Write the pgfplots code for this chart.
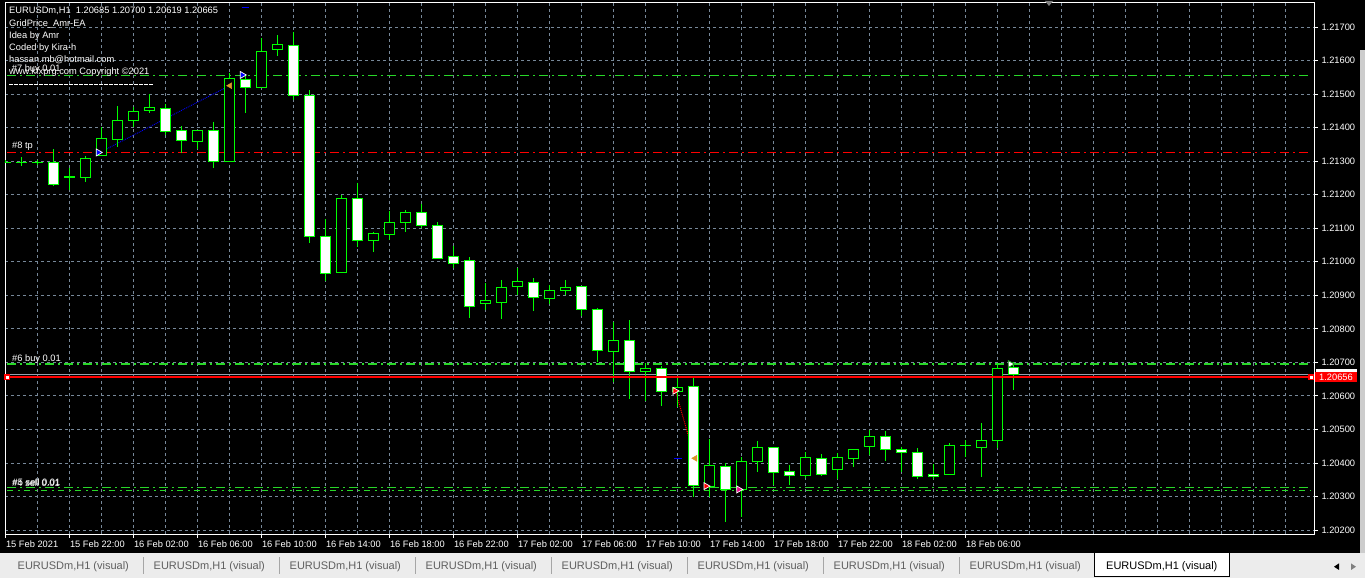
\documentclass[border=0pt]{standalone}
\usepackage{pgfplots}
\pgfplotsset{compat=1.18}
\usepackage{pgfplotstable}
\usepackage{fontspec}
\setmainfont{Liberation Sans}
\definecolor{gridc}{RGB}{119,136,153}
\definecolor{cgreen}{RGB}{0,255,0}
\definecolor{lgreen}{RGB}{40,215,40}
\definecolor{tabbg}{RGB}{236,236,236}
\definecolor{tabtxt}{RGB}{95,95,95}
\definecolor{orng}{RGB}{218,150,40}
\definecolor{bidgray}{RGB}{150,160,175}

\pgfplotstableread{
k o h l c
5 1.21252 1.21315 1.21239 1.21308
6 1.21318 1.21401 1.21315 1.21368
7 1.21366 1.21464 1.21341 1.21423
8 1.21423 1.21462 1.21403 1.21450
9 1.21452 1.21500 1.21443 1.21461
12 1.21359 1.21391 1.21335 1.21390
14 1.21301 1.21564 1.21298 1.21547
16 1.21522 1.21666 1.21517 1.21629
17 1.21634 1.21676 1.21614 1.21648
21 1.20969 1.21199 1.20966 1.21189
23 1.21064 1.21090 1.21030 1.21085
24 1.21082 1.21151 1.21065 1.21118
25 1.21118 1.21154 1.21090 1.21147
30 1.20876 1.20936 1.20856 1.20885
31 1.20881 1.20946 1.20828 1.20924
32 1.20926 1.20980 1.20901 1.20942
34 1.20891 1.20931 1.20874 1.20915
35 1.20915 1.20946 1.20901 1.20924
38 1.20732 1.20821 1.20642 1.20766
40 1.20674 1.20697 1.20586 1.20682
42 1.20614 1.20652 1.20566 1.20626
44 1.20329 1.20471 1.20299 1.20391
46 1.20321 1.20417 1.20240 1.20405
47 1.20404 1.20465 1.20374 1.20448
50 1.20363 1.20432 1.20354 1.20417
52 1.20380 1.20429 1.20352 1.20417
53 1.20413 1.20441 1.20389 1.20441
54 1.20449 1.20498 1.20424 1.20480
59 1.20365 1.20459 1.20365 1.20453
61 1.20449 1.20518 1.20359 1.20468
62 1.20468 1.20699 1.20444 1.20682
}\bulls

\pgfplotstableread{
k o h l c
3 1.21297 1.21336 1.21227 1.21231
10 1.21459 1.21470 1.21378 1.21390
11 1.21391 1.21405 1.21323 1.21363
13 1.21393 1.21418 1.21279 1.21301
15 1.21544 1.21557 1.21443 1.21520
18 1.21644 1.21686 1.21482 1.21497
19 1.21497 1.21512 1.21057 1.21075
20 1.21075 1.21127 1.20943 1.20966
22 1.21189 1.21236 1.21045 1.21064
26 1.21147 1.21172 1.21100 1.21109
27 1.21109 1.21118 1.21010 1.21010
28 1.21016 1.21047 1.20980 1.20995
29 1.21004 1.21013 1.20831 1.20867
33 1.20939 1.20951 1.20854 1.20894
36 1.20927 1.20927 1.20838 1.20858
37 1.20858 1.20861 1.20702 1.20736
39 1.20766 1.20826 1.20592 1.20673
41 1.20682 1.20689 1.20570 1.20614
43 1.20629 1.20652 1.20299 1.20332
45 1.20391 1.20399 1.20225 1.20321
48 1.20448 1.20448 1.20334 1.20374
49 1.20375 1.20394 1.20334 1.20363
51 1.20414 1.20427 1.20361 1.20368
55 1.20480 1.20495 1.20407 1.20440
56 1.20441 1.20449 1.20374 1.20432
57 1.20432 1.20444 1.20351 1.20362
58 1.20366 1.20397 1.20351 1.20360
63 1.20685 1.20700 1.20619 1.20665
}\bears

\pgfplotstableread{
k o h l c
0 1.21298 1.21302 1.21295 1.21298
1 1.21298 1.21312 1.21286 1.21298
2 1.21297 1.21303 1.21288 1.21297
4 1.21254 1.21280 1.21214 1.21254
60 1.20453 1.20468 1.20419 1.20453
}\dojis

\pgfplotsset{
  ebar/.style 2 args={forget plot, draw=none, mark=none,
    error bars/.cd, y dir=both, y explicit, error mark=none,
    error bar style={draw=#1, solid, line width=#2}},
}
\newcommand{\wick}[1]{\addplot[ebar={cgreen}{1pt}] table[x=k, y=h, y error plus expr=0, y error minus expr=\thisrow{h}-\thisrow{l}] {#1};}

\begin{document}
\begin{tikzpicture}
\useasboundingbox (0pt,0pt) rectangle (1365pt,578pt);
\fill[black] (0pt,0pt) rectangle (1365pt,578pt);
\fill[tabbg] (0pt,0pt) rectangle (1365pt,25pt);
\fill[gray!40] (1360pt,25pt) rectangle (1365pt,528pt);

\begin{axis}[
  at={(5pt,576pt)}, anchor=north west,
  scale only axis, width=1309pt, height=532pt,
  xmin=-0.031, xmax=81.78, ymin=1.201882, ymax=1.217746,
  axis background/.style={fill=black},
  axis line style={white, line width=0.8pt},
  tick style={white, line width=0.8pt},
  tick align=outside, major tick length=4pt, minor tick length=0pt,
  xtick pos=lower, ytick pos=upper, yticklabel pos=upper,
  xtick={0,4,8,12,16,20,24,28,32,36,40,44,48,52,56,60},
  xticklabels={15 Feb 2021,15 Feb 22:00,16 Feb 02:00,16 Feb 06:00,16 Feb 10:00,16 Feb 14:00,16 Feb 18:00,16 Feb 22:00,17 Feb 02:00,17 Feb 06:00,17 Feb 10:00,17 Feb 14:00,17 Feb 18:00,17 Feb 22:00,18 Feb 02:00,18 Feb 06:00},
  minor xtick={2,6,10,14,18,22,26,30,34,38,42,46,50,54,58,62,64,66,68,70,72,74,76,78,80},
  ytick={1.202,1.203,1.204,1.205,1.206,1.207,1.208,1.209,1.210,1.211,1.212,1.213,1.214,1.215,1.216,1.217},
  scaled y ticks=false,
  grid=both,
  major grid style={draw=gridc, dash pattern=on 3pt off 3pt, line width=0.8pt},
  minor grid style={draw=gridc, dash pattern=on 3pt off 3pt, line width=0.8pt},
  xticklabel style={text=white, font=\fontsize{9.3}{10}\selectfont, anchor=north west, xshift=-3pt, yshift=1pt},
  yticklabel style={text=white, font=\fontsize{9.3}{10}\selectfont, anchor=west,
    /pgf/number format/.cd, fixed, fixed zerofill, precision=5, assume math mode=true},
]
% level lines
\addplot[lgreen, line width=1.2pt, dash pattern=on 9pt off 4pt on 2pt off 4pt] coordinates {(0.1,1.21555) (81.6,1.21555)};
\addplot[red, line width=1.2pt, dash pattern=on 9pt off 4pt on 2pt off 4pt] coordinates {(0.1,1.21326) (81.6,1.21326)};
\addplot[lgreen, line width=1.2pt, dash pattern=on 9pt off 4pt on 2pt off 4pt] coordinates {(0.1,1.20695) (81.6,1.20695)};
\addplot[lgreen, line width=1.2pt, dash pattern=on 9pt off 4pt on 2pt off 4pt] coordinates {(0.1,1.20327) (81.6,1.20327)};
\addplot[lgreen, line width=1.2pt, dash pattern=on 6pt off 5pt on 2pt off 4pt] coordinates {(0.1,1.20319) (81.6,1.20319)};
\addplot[bidgray, line width=0.8pt] coordinates {(-0.031,1.20665) (81.78,1.20665)};
% trade connector lines
\addplot[blue, densely dotted, line width=0.9pt] coordinates {(5.9,1.21326) (14.0,1.21525)};
\addplot[red, densely dotted, line width=1pt] coordinates {(41.9,1.20610) (43.05,1.20420)};
\addplot[blue, line width=1pt] coordinates {(41.8,1.20414) (42.25,1.20414)};
\addplot[blue, line width=1pt] coordinates {(14.75,1.21757) (15.2,1.21757)};
% candles
\wick{\bulls}
\wick{\bears}
\wick{\dojis}
\addplot[ebar={cgreen}{10.5pt}] table[x=k, y expr=(\thisrow{o}+\thisrow{c})/2, y error expr=abs(\thisrow{o}-\thisrow{c})/2+0.0000149] {\bulls};
\addplot[ebar={black}{8.5pt}] table[x=k, y expr=(\thisrow{o}+\thisrow{c})/2, y error expr=abs(\thisrow{o}-\thisrow{c})/2-0.0000149] {\bulls};
\addplot[ebar={cgreen}{10.5pt}] table[x=k, y expr=(\thisrow{o}+\thisrow{c})/2, y error expr=abs(\thisrow{o}-\thisrow{c})/2+0.0000149] {\bears};
\addplot[ebar={white}{8.5pt}] table[x=k, y expr=(\thisrow{o}+\thisrow{c})/2, y error expr=abs(\thisrow{o}-\thisrow{c})/2-0.0000149] {\bears};
\addplot[ebar={cgreen}{10.5pt}] table[x=k, y expr=(\thisrow{o}+\thisrow{c})/2, y error expr=0.0000149] {\dojis};
% current price line
\addplot[red, line width=1.8pt, mark=square*, mark size=2.2pt, mark options={solid, fill=white, draw=red, line width=1.3pt}] coordinates {(0.11,1.20656) (81.6,1.20656)};
% trade arrows
\addplot[only marks, mark=triangle*, mark size=4pt, mark options={rotate=-90, fill=blue, draw=white, line width=0.7pt}] coordinates {(5.8,1.21326) (14.8,1.21557)};
\addplot[only marks, mark=triangle*, mark size=3.4pt, mark options={rotate=90, fill=orng, draw=orng}] coordinates {(14.03,1.21525) (43.1,1.20414)};
\addplot[only marks, mark=triangle*, mark size=4pt, mark options={rotate=-90, fill=red, draw=white, line width=0.7pt}] coordinates {(41.84,1.20615) (43.78,1.20331)};
\addplot[only marks, mark=triangle*, mark size=4pt, mark options={rotate=-90, fill=magenta, draw=white, line width=0.7pt}] coordinates {(45.83,1.20321)};
\addplot[only marks, mark=triangle*, mark size=4pt, mark options={rotate=-90, fill=white, draw=lgreen!70!black, line width=0.8pt}] coordinates {(62.8,1.20695)};
\end{axis}

% price label on right axis
\fill[white] (1316pt,205pt) rectangle (1357pt,209pt);
\fill[red] (1315pt,195.5pt) rectangle (1357pt,205.5pt);
\node[text=white, font=\fontsize{9.3}{10}\selectfont, inner sep=0] at (1336pt,200.5pt) {1.20656};
\fill[gray] (1045pt,577pt) -- (1053pt,577pt) -- (1049pt,572pt) -- cycle;

% header texts
\begin{scope}[every node/.style={text=white, anchor=west, inner sep=0, font=\fontsize{9.3}{10}\selectfont}]
\node at (9pt,567.3pt) {EURUSDm,H1\ \ 1.20685 1.20700 1.20619 1.20665};
\node at (9pt,554pt) {GridPrice\_Amr-EA};
\node at (9pt,542.3pt) {Idea by Amr};
\node at (9pt,530.3pt) {Coded by Kira-h};
\node at (9pt,518pt) {hassan.mb@hotmail.com};
\node at (9pt,506.3pt) {www.kfxprg.com Copyright ©2021};
\node at (11.7pt,509pt) {\#7 buy 0.01};
\node at (12pt,431.3pt) {\#8 tp};
\node at (12pt,219pt) {\#6 buy 0.01};
\node at (12pt,95.3pt) {\#4 sell 0.01};
\node at (12.5pt,95.8pt) {\#5 sell 0.01};
\end{scope}
\draw[white, line width=0.8pt, dash pattern=on 4pt off 1pt] (9pt,494pt) -- (153pt,494pt);

% tab strip
\foreach \i in {0,...,6} {\draw[gray!70] ({142.7pt+136pt*\i},4pt) -- ({142.7pt+136pt*\i},21pt);}
\foreach \i in {0,...,7} {\node[text=tabtxt, font=\fontsize{11}{12}\selectfont, inner sep=0] at ({73.3pt+136pt*\i},11.3pt) {EURUSDm,H1 (visual)};}
\filldraw[fill=white, draw=black, line width=0.8pt] (1094.6pt,2pt) rectangle (1229pt,25.4pt);
\node[text=black, font=\fontsize{11}{12}\selectfont, inner sep=0] at (1161.8pt,11.3pt) {EURUSDm,H1 (visual)};
\fill[black] (1334pt,11.3pt) -- (1339pt,8pt) -- (1339pt,14.6pt) -- cycle;
\fill[gray] (1356pt,11.3pt) -- (1351pt,8pt) -- (1351pt,14.6pt) -- cycle;
\end{tikzpicture}
\end{document}
